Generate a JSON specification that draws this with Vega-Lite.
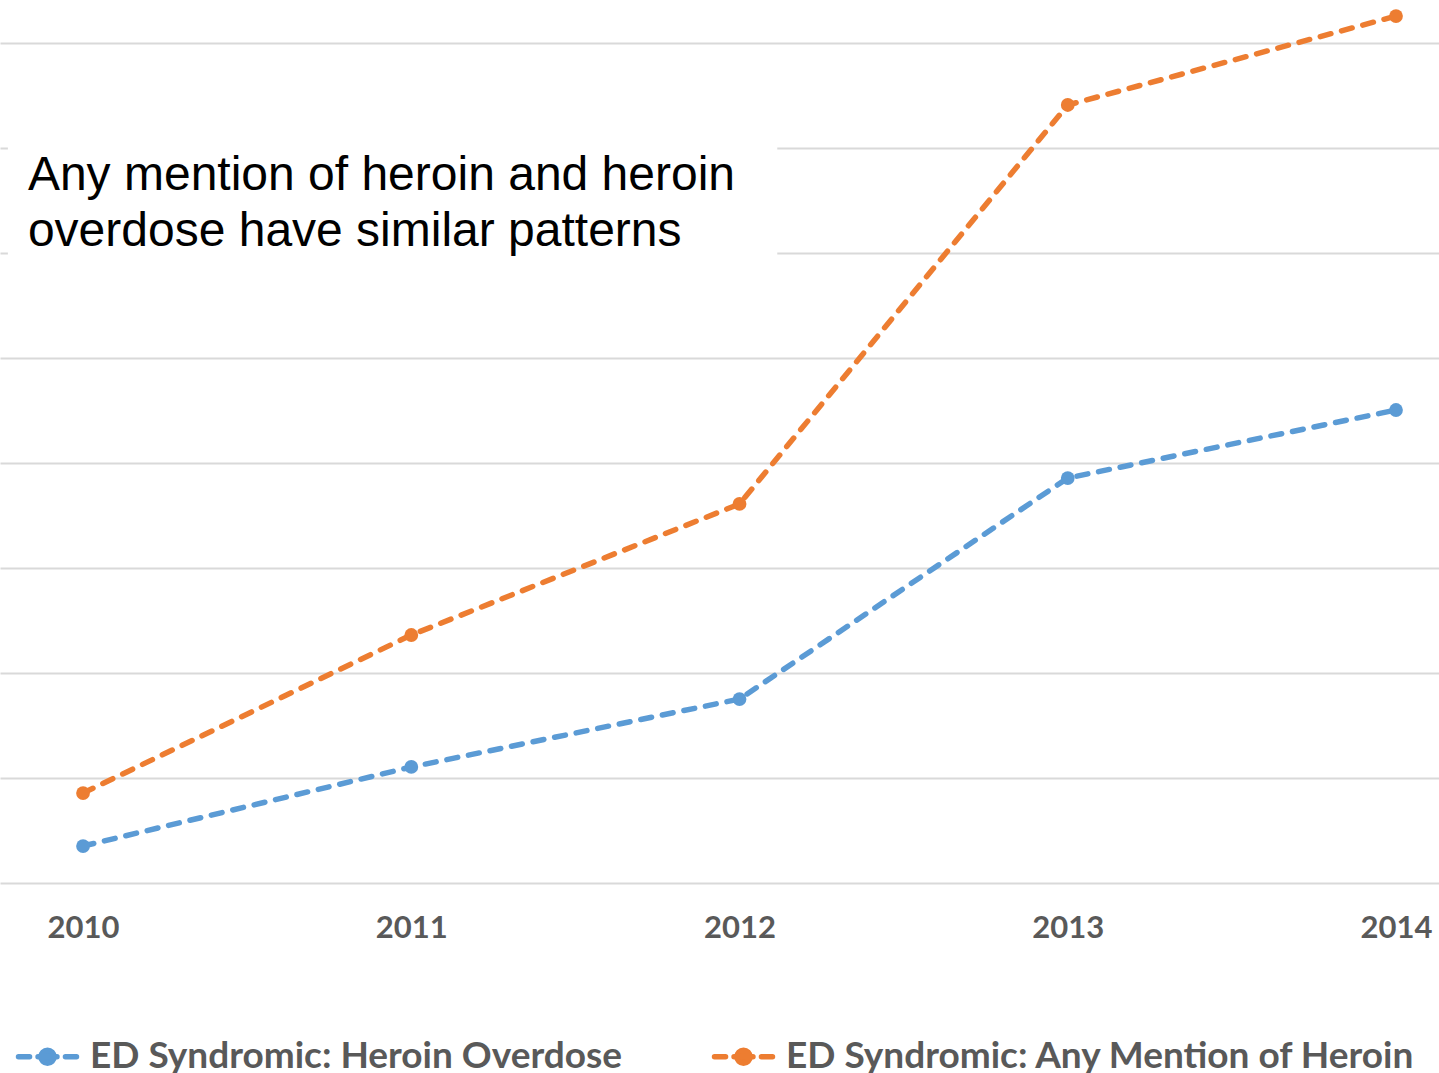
{
  "$schema": "https://vega.github.io/schema/vega-lite/v6.json",
  "width": 1439,
  "height": 883,
  "autosize": {"type": "none"},
  "padding": {"left": 0, "top": 0, "right": 0, "bottom": 190},
  "background": "white",
  "config": {"view": {"stroke": null}},
  "datasets": {
    "series": [
      {"year": 2010, "value": 0.352, "series": "ED Syndromic: Heroin Overdose"},
      {"year": 2011, "value": 1.105, "series": "ED Syndromic: Heroin Overdose"},
      {"year": 2012, "value": 1.752, "series": "ED Syndromic: Heroin Overdose"},
      {"year": 2013, "value": 3.857, "series": "ED Syndromic: Heroin Overdose"},
      {"year": 2014, "value": 4.505, "series": "ED Syndromic: Heroin Overdose"},
      {"year": 2010, "value": 0.857, "series": "ED Syndromic: Any Mention of Heroin"},
      {"year": 2011, "value": 2.362, "series": "ED Syndromic: Any Mention of Heroin"},
      {"year": 2012, "value": 3.61, "series": "ED Syndromic: Any Mention of Heroin"},
      {"year": 2013, "value": 7.41, "series": "ED Syndromic: Any Mention of Heroin"},
      {"year": 2014, "value": 8.257, "series": "ED Syndromic: Any Mention of Heroin"}
    ],
    "note": [
      {"x1": 2009.771, "x2": 2012.115, "y1": 5.9, "y2": 7.1, "tx": 2009.832, "ty": 6.6, "label": ["Any mention of heroin and heroin", "overdose have similar patterns"]}
    ]
  },
  "layer": [
    {
      "data": {"name": "note"},
      "mark": {"type": "rect", "fill": "white", "stroke": null},
      "encoding": {
        "x": {"field": "x1", "type": "quantitative", "scale": {"domain": [2009.747, 2014.131], "nice": false, "zero": false},
          "axis": {"values": [2010, 2011, 2012, 2013, 2014], "format": "d", "grid": false, "domain": false, "ticks": false, "title": null,
            "labelFont": "Lato", "labelFontWeight": "bold", "labelFontSize": 31, "labelColor": "#595959", "labelPadding": 30, "labelOverlap": false, "labelFlush": false}},
        "x2": {"field": "x2"},
        "y": {"field": "y1", "type": "quantitative", "scale": {"domain": [0, 8.41], "nice": false, "zero": true},
          "axis": {"values": [0, 1, 2, 3, 4, 5, 6, 7, 8], "grid": true, "gridColor": "#D9D9D9", "gridWidth": 2, "labels": false, "ticks": false, "domain": false, "title": null}},
        "y2": {"field": "y2"}
      }
    },
    {
      "data": {"name": "note"},
      "mark": {"type": "text", "font": "Liberation Sans", "fontSize": 48, "lineHeight": 56, "align": "left", "baseline": "alphabetic", "color": "black"},
      "encoding": {
        "x": {"field": "tx", "type": "quantitative"},
        "y": {"field": "ty", "type": "quantitative"},
        "text": {"field": "label"}
      }
    },
    {
      "data": {"name": "series"},
      "mark": {"type": "line", "strokeWidth": 5.5, "strokeDash": [11, 11], "strokeCap": "round"},
      "encoding": {
        "x": {"field": "year", "type": "quantitative"},
        "y": {"field": "value", "type": "quantitative"},
        "color": {"field": "series", "type": "nominal",
          "scale": {"domain": ["ED Syndromic: Heroin Overdose", "ED Syndromic: Any Mention of Heroin"], "range": ["#5B9BD5", "#ED7D31"]},
          "legend": {"orient": "none", "legendX": 13, "legendY": 1022, "direction": "horizontal", "columns": 2, "columnPadding": 80, "title": null,
            "symbolType": "M-0.92,0H-0.57M0.57,0H0.92M-0.3,0H0.3M-0.21,0a0.21,0.21 0 1,0 0.42,0a0.21,0.21 0 1,0 -0.42,0Z",
            "symbolSize": 3969, "symbolStrokeWidth": 5.5, "symbolOpacity": 1,
            "labelFont": "Lato", "labelFontWeight": "bold", "labelFontSize": 37, "labelColor": "#595959", "labelLimit": 1000, "labelOffset": 8,
            "encode": {"symbols": {"update": {"fill": {"scale": "color", "field": "value"}, "strokeCap": {"value": "round"}, "strokeDash": {"value": []}}}}}
        }
      }
    },
    {
      "data": {"name": "series"},
      "mark": {"type": "point", "filled": true, "size": 190, "opacity": 1},
      "encoding": {
        "x": {"field": "year", "type": "quantitative"},
        "y": {"field": "value", "type": "quantitative"},
        "color": {"field": "series", "type": "nominal", "legend": null}
      }
    }
  ]
}
